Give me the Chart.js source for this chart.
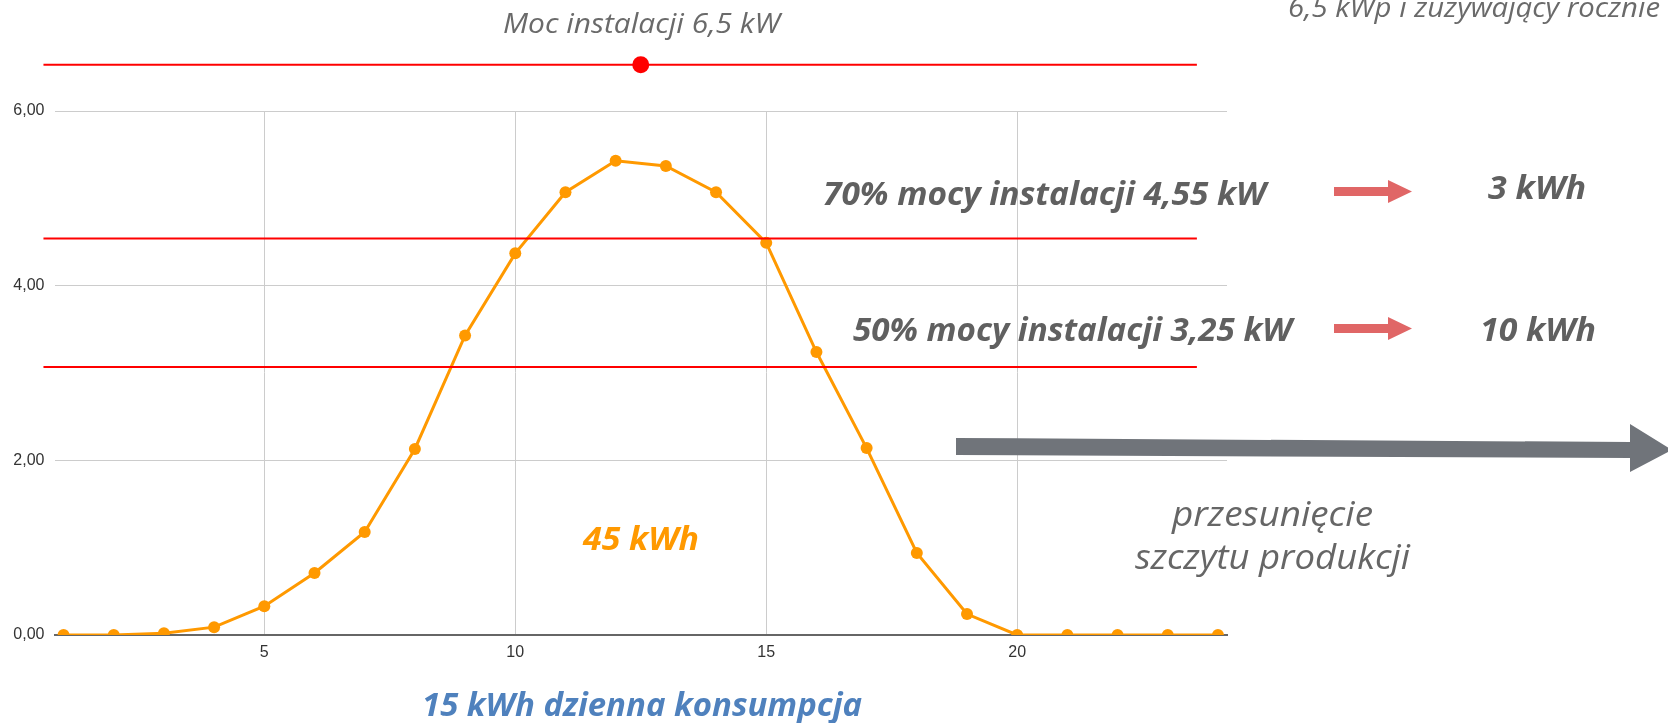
<!DOCTYPE html>
<html lang="pl"><head><meta charset="utf-8">
<script src="https://cdn.jsdelivr.net/npm/chart.js@4.4.1/dist/chart.umd.min.js"></script>
<style>
html,body{margin:0;padding:0;background:#fff;overflow:hidden}
#wrap{position:relative;width:1668px;height:723px}
#c{position:absolute;left:0;top:0}
#ov{position:absolute;left:0;top:0;pointer-events:none}
</style></head><body>
<div id="wrap">
<canvas id="c" width="1668" height="723"></canvas>
<svg id="ov" width="1668" height="723" xmlns="http://www.w3.org/2000/svg">
  <!-- annotation texts -->
  <text x="503" y="33" textLength="277" lengthAdjust="spacingAndGlyphs" font-family="Open Sans" font-style="italic" font-size="27" fill="#6a6a6a">Moc instalacji 6,5 kW</text>
  <text x="1288" y="17" textLength="372" lengthAdjust="spacingAndGlyphs" font-family="Open Sans" font-style="italic" font-size="28" fill="#6a6a6a">6,5 kWp i zużywający rocznie</text>
  <text x="823" y="205" textLength="443" lengthAdjust="spacingAndGlyphs" font-family="Open Sans" font-style="italic" font-weight="bold" font-size="32" fill="#606060">70% mocy instalacji 4,55 kW</text>
  <text x="853" y="341" textLength="439" lengthAdjust="spacingAndGlyphs" font-family="Open Sans" font-style="italic" font-weight="bold" font-size="32" fill="#606060">50% mocy instalacji 3,25 kW</text>
  <text x="1488" y="199" textLength="98" lengthAdjust="spacingAndGlyphs" font-family="Open Sans" font-style="italic" font-weight="bold" font-size="32" fill="#606060">3 kWh</text>
  <text x="1480" y="341" textLength="116" lengthAdjust="spacingAndGlyphs" font-family="Open Sans" font-style="italic" font-weight="bold" font-size="32" fill="#606060">10 kWh</text>
  <text x="583" y="550" textLength="116" lengthAdjust="spacingAndGlyphs" font-family="Open Sans" font-style="italic" font-weight="bold" font-size="33" fill="#ff9900">45 kWh</text>
  <text x="422" y="716" textLength="440" lengthAdjust="spacingAndGlyphs" font-family="Open Sans" font-style="italic" font-weight="bold" font-size="32" fill="#4f81bd">15 kWh dzienna konsumpcja</text>
  <text x="1172" y="526" textLength="201" lengthAdjust="spacingAndGlyphs" font-family="Open Sans" font-style="italic" font-size="35" fill="#666666">przesunięcie</text>
  <text x="1135" y="569" textLength="275" lengthAdjust="spacingAndGlyphs" font-family="Open Sans" font-style="italic" font-size="35" fill="#666666">szczytu produkcji</text>
  <!-- arrows -->
  <polygon points="1334,187 1388,187 1388,180 1412,191.5 1388,203 1388,196 1334,196" fill="#e06666"/>
  <polygon points="1334,324 1388,324 1388,317 1412,328.5 1388,340 1388,333 1334,333" fill="#e06666"/>
  <polygon points="956,438 1630,442 1630,424 1672,450 1630,472 1630,458 956,455" fill="#70747a"/>
</svg>
</div>
<script>
// ---- data ----
const hours = [1,2,3,4,5,6,7,8,9,10,11,12,13,14,15,16,17,18,19,20,21,22,23,24];
const production = [0,0,0.02,0.09,0.33,0.71,1.18,2.13,3.43,4.37,5.07,5.43,5.37,5.07,4.49,3.24,2.14,0.94,0.24,0,0,0,0,0];
const limitLevels = [6.53, 4.54, 3.07];      // Moc instalacji, 70%, 50% (as drawn)
const limitSpan = [0.6, 23.58];               // x extent of the red lines
const peakMarkerX = [12.5];
const peakMarkerY = [6.53];
const xTicks = [5, 10, 15, 20];
const yTicks = [0, 2, 4, 6];
const yTickLabels = ['0,00', '2,00', '4,00', '6,00'];

const limitDatasets = limitLevels.map(v => ({
  data: limitSpan.map(x => ({x: x, y: v})),
  borderColor: '#ff0000', borderWidth: 2, pointRadius: 0, clip: false, tension: 0
}));

// marker above the plot area: drawn at positions given by the chart's own scales
const peakMarkerPlugin = {
  id: 'peakMarker',
  afterDatasetsDraw(chart) {
    const {ctx, scales} = chart;
    ctx.save();
    ctx.fillStyle = '#ff0000';
    peakMarkerX.forEach((x, i) => {
      const px = scales.x.getPixelForValue(x);
      const py = scales.y.getPixelForValue(peakMarkerY[i]);
      ctx.beginPath();
      ctx.arc(px, py, 8.5, 0, Math.PI * 2);
      ctx.fill();
    });
    ctx.restore();
  }
};

new Chart(document.getElementById('c'), {
  type: 'line',
  data: {
    datasets: [
      ...limitDatasets,
      {
        data: hours.map((h, i) => ({x: h, y: production[i]})),
        borderColor: '#ff9900', backgroundColor: '#ff9900', borderWidth: 3,
        pointRadius: 6, pointBackgroundColor: '#ff9900', pointBorderWidth: 0,
        tension: 0, clip: 0
      }
    ]
  },
  plugins: [peakMarkerPlugin],
  options: {
    responsive: false, animation: false, events: [],
    layout: {padding: {left: 0, right: 441, top: 111, bottom: 0}},
    plugins: {legend: {display: false}, tooltip: {enabled: false}, title: {display: false}},
    scales: {
      x: {
        type: 'linear', min: 0.82, max: 24.18,
        afterBuildTicks: s => { s.ticks = xTicks.map(v => ({value: v})); },
        afterFit: s => { s.height = 88; },
        grid: {color: '#cccccc', lineWidth: 1, drawTicks: false},
        border: {display: true, color: '#666666', width: 2},
        ticks: {padding: 8, color: '#333', maxRotation: 0, autoSkip: false,
                font: {family: 'Liberation Sans, Arial', size: 16},
                callback: v => String(v)}
      },
      y: {
        type: 'linear', min: 0, max: 6,
        afterBuildTicks: s => { s.ticks = yTicks.map(v => ({value: v})); },
        afterFit: s => { s.width = 54.5; },
        grid: {color: c => (c.tick && c.tick.value === 0) ? 'rgba(0,0,0,0)' : '#cccccc', lineWidth: 1, drawTicks: false},
        border: {display: false},
        ticks: {padding: 10, color: '#333',
                font: {family: 'Liberation Sans, Arial', size: 16},
                callback: v => yTickLabels[yTicks.indexOf(v)]}
      }
    }
  }
});
</script>
</body></html>
